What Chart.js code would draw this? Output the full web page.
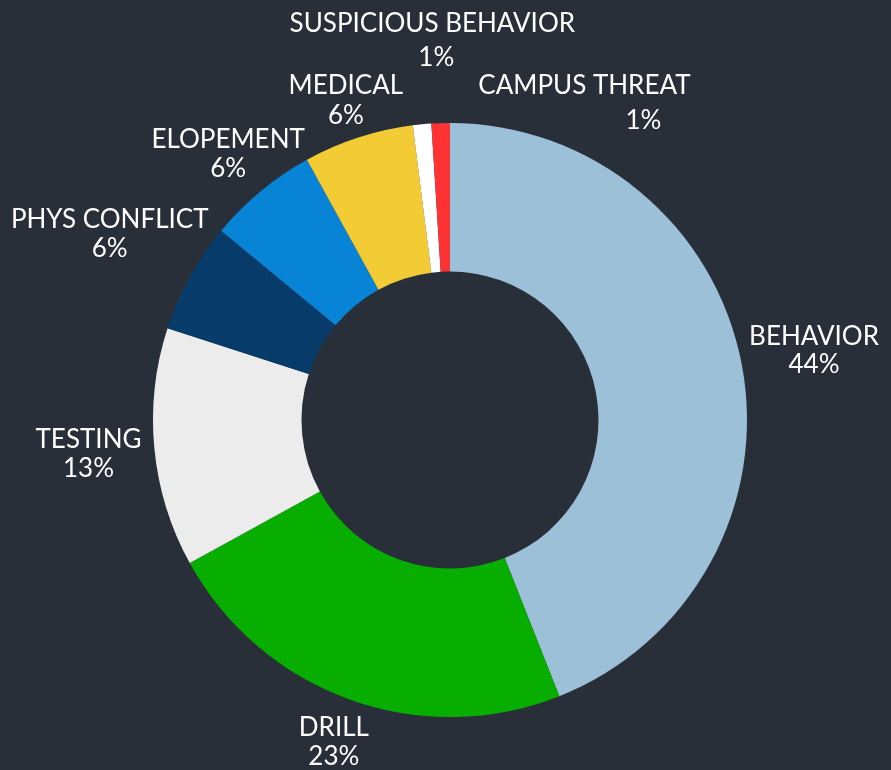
<!DOCTYPE html>
<html>
<head>
<meta charset="utf-8">
<script src="https://cdn.jsdelivr.net/npm/chart.js@4.4.1/dist/chart.umd.min.js"></script>
<style>
  html, body { margin: 0; padding: 0; background: #282f39; }
  #wrap { width: 891px; height: 770px; }
</style>
</head>
<body>
<div id="wrap"><canvas id="incident-chart" width="891" height="770"></canvas></div>
<script>
const categories = ['BEHAVIOR', 'DRILL', 'TESTING', 'PHYS CONFLICT', 'ELOPEMENT', 'MEDICAL', 'SUSPICIOUS BEHAVIOR', 'CAMPUS THREAT'];
const values = [44, 23, 13, 6, 6, 6, 1, 1];
const sliceColors = ['#9bc0d7', '#07ae00', '#ececec', '#073b6a', '#0884d7', '#f2cb35', '#ffffff', '#ff3333'];

// label nudges (cap-centre of each line) relative to a point 40px outside the slice's mid angle
const nameOffsets  = [[33, -21], [-2, -10], [-26, -13], [-45, -39], [-7, -22], [0, -15], [14, -62], [145, 1]];
const valueOffsets = [[33, 7],   [-2, 19],  [-26, 16],  [-45, -10], [-7, 7],   [0, 15],  [18, -28], [204, 36]];

const LABEL_FONT = 26;

const outsideLabels = {
  id: 'outsideLabels',
  afterDatasetsDraw(chart) {
    const ctx = chart.ctx;
    const meta = chart.getDatasetMeta(0);
    const total = values.reduce((a, b) => a + b, 0);
    ctx.save();
    ctx.font = `${LABEL_FONT}px Lato, "Open Sans", sans-serif`;
    ctx.fillStyle = '#ffffff';
    ctx.textAlign = 'center';
    ctx.textBaseline = 'alphabetic';
    const capHalf = LABEL_FONT * 0.36;
    meta.data.forEach((arc, i) => {
      const p = arc.getProps(['x', 'y', 'startAngle', 'endAngle', 'outerRadius'], true);
      const mid = (p.startAngle + p.endAngle) / 2;
      const ax = p.x + Math.cos(mid) * (p.outerRadius + 40);
      const ay = p.y + Math.sin(mid) * (p.outerRadius + 40);
      const pct = Math.round(values[i] / total * 100) + '%';
      ctx.fillText(categories[i], ax + nameOffsets[i][0], ay + nameOffsets[i][1] + capHalf);
      ctx.fillText(pct, ax + valueOffsets[i][0], ay + valueOffsets[i][1] + capHalf);
    });
    ctx.restore();
  }
};

new Chart(document.getElementById('incident-chart').getContext('2d'), {
  type: 'doughnut',
  data: {
    labels: categories,
    datasets: [{
      data: values,
      backgroundColor: sliceColors,
      borderWidth: 0
    }]
  },
  options: {
    responsive: false,
    animation: false,
    cutout: '50%',
    layout: { padding: { top: 123, bottom: 53, left: 9, right: 0 } },
    plugins: {
      legend: { display: false },
      tooltip: { enabled: false }
    }
  },
  plugins: [outsideLabels]
});
</script>
</body>
</html>
